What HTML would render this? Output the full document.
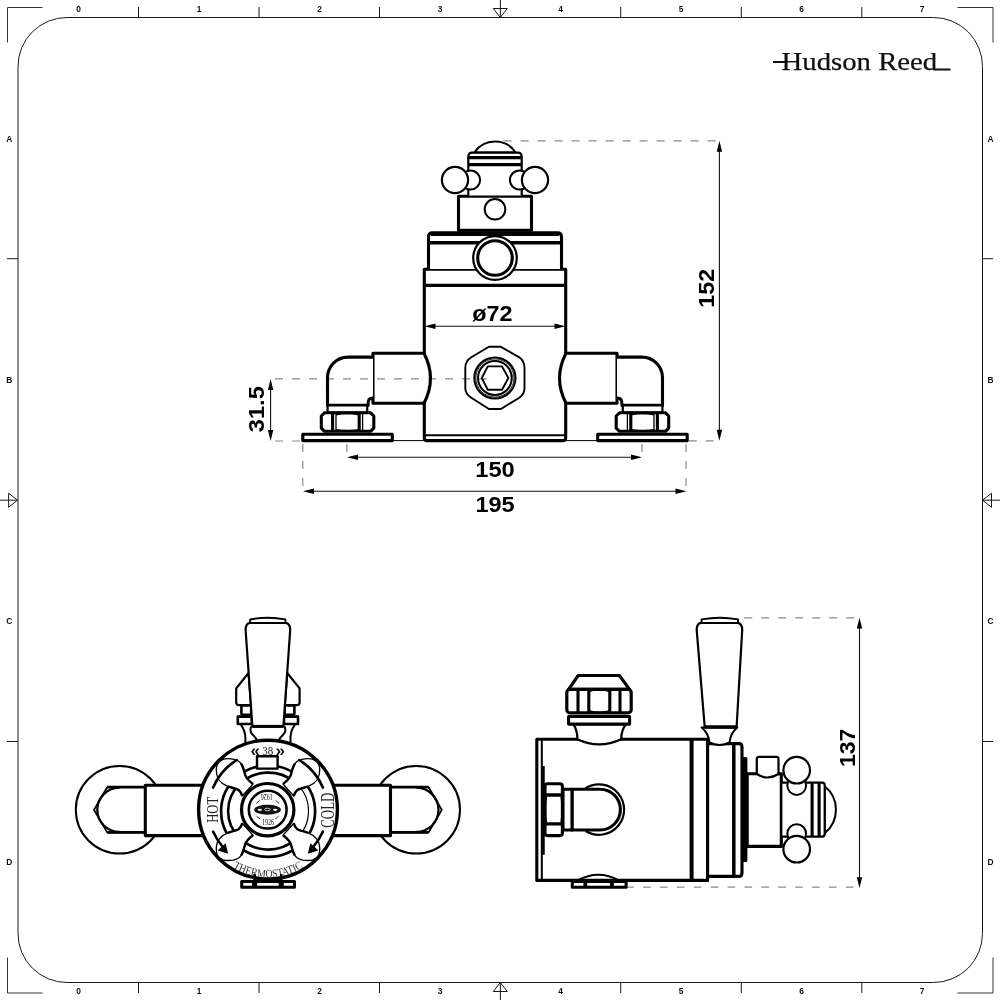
<!DOCTYPE html>
<html><head><meta charset="utf-8"><title>Hudson Reed drawing</title>
<style>
html,body{margin:0;padding:0;background:#fff;width:1000px;height:1000px;overflow:hidden}
svg{display:block}
.f{fill:none;stroke:#1a1a1a;stroke-width:1}
.lbl{font-family:"Liberation Sans",sans-serif;font-weight:bold;font-size:8.4px;fill:#111;text-anchor:middle}
.dim{font-family:"Liberation Sans",sans-serif;font-weight:bold;font-size:22px;fill:#000;text-anchor:middle}
.k{fill:#fff;stroke:#000;stroke-width:2.2;stroke-linejoin:round}
.kn{fill:none;stroke:#000;stroke-width:2.2;stroke-linejoin:round}
.t{fill:none;stroke:#000;stroke-width:1.4}
.d{fill:none;stroke:#8a8a8a;stroke-width:1.2;stroke-dasharray:8 9}
.dl{fill:none;stroke:#111;stroke-width:1.1}
.ah{fill:#000;stroke:none}
</style></head>
<body>
<svg width="1000" height="1000" viewBox="0 0 1000 1000">
<!-- FRAME -->
<g id="frame">
<rect x="18" y="17.5" width="964.5" height="965" rx="49" ry="49" class="f"/>
<path class="f" d="M42.5 7.5H7.5V42.5M957.5 7.5H993V42.5M7.5 957.5V993H42.5M957.5 993H993V957.5" style="stroke:#333"/>
<!-- top ticks -->
<path class="f" d="M138.5 7V17.5M259 7V17.5M379.5 7V17.5M620.7 7V17.5M741.3 7V17.5M861.8 7V17.5"/>
<path class="f" d="M138.5 982.5V993M259 982.5V993M379.5 982.5V993M620.7 982.5V993M741.3 982.5V993M861.8 982.5V993"/>
<path class="f" d="M7 258.7H18M7 741.5H18M982.5 258.7H993M982.5 741.5H993"/>
<!-- center arrows -->
<path class="f" d="M500.4 0V17.5M493.3 8.5H507.3L500.3 17.5Z"/>
<path class="f" d="M500.4 1000V982.5M493.3 991.5H507.3L500.3 982.5Z"/>
<path class="f" d="M0 500.2H17.5M8.6 493.2V507.2L17.5 500.2Z"/>
<path class="f" d="M1000 500.2H982.5M991.5 493.2V507.2L982.5 500.2Z"/>
<g class="lbl">
<text x="78.5" y="12.2">0</text><text x="199" y="12.2">1</text><text x="319.5" y="12.2">2</text><text x="440" y="12.2">3</text>
<text x="560.5" y="12.2">4</text><text x="681" y="12.2">5</text><text x="801.5" y="12.2">6</text><text x="922" y="12.2">7</text>
<text x="78.5" y="993.5">0</text><text x="199" y="993.5">1</text><text x="319.5" y="993.5">2</text><text x="440" y="993.5">3</text>
<text x="560.5" y="993.5">4</text><text x="681" y="993.5">5</text><text x="801.5" y="993.5">6</text><text x="922" y="993.5">7</text>
<text x="9.3" y="141.5">A</text><text x="9.3" y="382.5">B</text><text x="9.3" y="623.5">C</text><text x="9.3" y="864.5">D</text>
<text x="990.5" y="141.5">A</text><text x="990.5" y="382.5">B</text><text x="990.5" y="623.5">C</text><text x="990.5" y="864.5">D</text>
</g>
</g>
<!-- LOGO -->
<g id="logo">
<text x="781.6" y="70.4" textLength="155.6" lengthAdjust="spacingAndGlyphs" style="font-family:'Liberation Serif',serif;font-size:25.2px;fill:#111;stroke:#111;stroke-width:0.25">Hudson Reed</text>
<path d="M773 62H787M934.5 69.6H950.5" stroke="#111" stroke-width="2" fill="none"/>
</g>
<g id="topview">
<!-- main body -->
<path class="k" d="M424.3 269.3V438Q424.3 440.6 427 440.6H563Q565.7 440.6 565.7 438V269.3Z" style="stroke-width:3.1"/>
<path class="kn" d="M424.3 435.2H565.7" style="stroke-width:2"/>
<path class="kn" d="M424.3 285.3H565.7" style="stroke-width:3.3"/>
<!-- upper cylinder -->
<path class="k" d="M428.5 269V237Q428.5 232.8 432.5 232.8H557.5Q561.5 232.8 561.5 237V269" style="stroke-width:3.1"/>
<path class="kn" d="M431 234.2H559" style="stroke-width:3.5"/>
<path class="kn" d="M428.5 242.8H561.5" style="stroke-width:3.5"/>
<!-- middle block -->
<rect class="k" x="458.5" y="196.2" width="73" height="34" style="stroke-width:3.1"/>
<circle class="k" cx="495" cy="209.3" r="10.3" style="stroke-width:2"/>
<!-- ring -->
<circle class="k" cx="495" cy="258" r="21.8" style="stroke-width:2.2"/>
<circle class="k" cx="495" cy="258" r="17.3" style="stroke-width:3.1"/>
<!-- top body -->
<path class="k" d="M468.3 195.5V157Q468.3 152.6 472 152.6H518Q521.7 152.6 521.7 157V195.5" style="stroke-width:2.2"/>
<path class="kn" d="M468.3 157.6H521.7M468.3 164.6H521.7" style="stroke-width:3.1"/>
<path class="k" d="M474.5 152.2A25 25 0 0 1 515.5 152.2Z" style="stroke-width:2"/>
<!-- knobs -->
<circle class="k" cx="470.5" cy="180" r="9.6" style="stroke-width:2"/>
<circle class="k" cx="519.5" cy="180" r="9.6" style="stroke-width:2"/>
<circle class="k" cx="455" cy="180" r="13.1" style="stroke-width:2.2"/>
<circle class="k" cx="535" cy="180" r="13.1" style="stroke-width:2.2"/>
<!-- side parts (left, mirrored) -->
<g id="tvL">
<path class="kn" d="M392.3 440.6H424" style="stroke-width:1"/>
<path class="k" d="M373 353.3H424Q437 378.3 424 403.3H373Z" style="stroke-width:3.1"/>
<path class="k" d="M373 357.1H348A20.5 20.5 0 0 0 327.5 377.6V405.4H368C368 400 369 398 373 398" style="stroke-width:3.1"/>
<rect class="k" x="327.6" y="405.4" width="39.6" height="7.2" style="stroke-width:2.2"/>
<path class="k" d="M324.5 412.8H370.5L373.8 416V428.2L370.5 431.3H324.5L321.3 428.2V416Z" style="stroke-width:3.1"/>
<path class="kn" d="M332.6 413V431M359.2 413V431" style="stroke-width:3.1"/>
<path class="kn" d="M336 413V431M362.6 413V431" style="stroke-width:1.3"/>
<path class="kn" d="M336 414.8Q347.6 412.6 359.2 414.8M336 429.6Q347.6 431.6 359.2 429.6" style="stroke-width:1.3"/>
<rect class="k" x="302.8" y="434.2" width="89.5" height="6.4" style="stroke-width:3.1"/>
</g>
<use href="#tvL" transform="translate(990 0) scale(-1 1)"/>
<!-- center nut -->
<path class="k" d="M488.9 346.8H500.9L519.3 357.3Q524.5 361 524.5 367.8V388Q524.5 394 519.3 397.8L500.9 409H488.9L471.3 397.8Q465.3 394 465.3 388V367.8Q465.3 361 471.3 357.3Z" style="stroke-width:1.9"/>
<circle class="kn" cx="494.9" cy="378" r="20.6" style="stroke-width:2"/>
<circle class="kn" cx="494.9" cy="378" r="19.1" style="stroke-width:0.9"/>
<circle class="kn" cx="494.9" cy="378" r="16.9" style="stroke-width:2"/>
<path class="kn" d="M487.8 366.4H502L508.4 378L502 389.8H487.8L481.8 378Z" style="stroke-width:1.9"/>
<!-- dimensions -->
<g style="mix-blend-mode:multiply">
<path class="d" d="M503.6 140.8H716"/>
<path class="d" d="M688.8 440.8H716"/>
<path class="d" d="M275 378.9H488"/>
<path class="d" d="M275 441H301"/>
<path class="d" d="M346.8 444V453M642 444V453M302.8 444V488M686 444V488"/>
</g>
<path class="dl" d="M719.4 150V432"/>
<path class="ah" d="M719.4 140.8L716.7 151.8H722.1ZM719.4 440.8L716.7 429.8H722.1Z"/>
<path class="dl" d="M270.6 389V431"/>
<path class="ah" d="M270.6 378.9L267.9 389.9H273.3ZM270.6 441L267.9 430H273.3Z"/>
<path class="dl" d="M434 326.2H556"/>
<path class="ah" d="M424.5 326.2L435.5 323.5V328.9ZM565.5 326.2L554.5 323.5V328.9Z"/>
<path class="dl" d="M356 457.2H633"/>
<path class="ah" d="M347 457.2L358 454.5V459.9ZM642 457.2L631 454.5V459.9Z"/>
<path class="dl" d="M312 491.3H677"/>
<path class="ah" d="M303 491.3L314 488.6V494ZM686.5 491.3L675.5 488.6V494Z"/>
<text class="dim" x="492.3" y="320.8" textLength="40.3" lengthAdjust="spacingAndGlyphs">ø72</text>
<text class="dim" x="495" y="476.8" textLength="39.6" lengthAdjust="spacingAndGlyphs">150</text>
<text class="dim" x="495" y="511.5" textLength="39.2" lengthAdjust="spacingAndGlyphs">195</text>
<text class="dim" transform="translate(714 288.2) rotate(-90)" textLength="38.9" lengthAdjust="spacingAndGlyphs">152</text>
<text class="dim" transform="translate(264.3 409.2) rotate(-90)" textLength="45.9" lengthAdjust="spacingAndGlyphs">31.5</text>
</g>
<g id="frontview">
<g id="fvL">
<circle class="k" cx="119.6" cy="809.7" r="43.8" style="stroke-width:2"/>
<path class="k" d="M146 787.2H107.2L94 809.9L107.2 832.4H146Z" style="stroke-width:1.8"/>
<path class="kn" d="M107.2 787.2H146M107.2 832.4H146" style="stroke-width:2.8"/>
<path class="kn" d="M119.5 787.6A22.2 22.2 0 0 0 119.5 832" style="stroke-width:2.3"/>
<rect class="k" x="145.3" y="785.3" width="58" height="50.3" style="stroke-width:3.1"/>
</g>
<use href="#fvL" transform="translate(535.8 0) scale(-1 1)"/>
<!-- lever -->
<g id="lvL">
<path class="k" d="M248.6 673L236.2 688.4V702.6Q236.2 705.2 239 705.2H251Z" style="stroke-width:2.2"/>
<rect class="k" x="241.4" y="705.4" width="9.8" height="9.4" rx="1.5" style="stroke-width:2.6"/>
<rect class="k" x="237.8" y="716.6" width="14" height="7.4" style="stroke-width:2.6"/>
<path class="kn" d="M240.5 724.2Q246.5 732 245.2 742.5M251.2 726.4Q249.2 731.5 252.5 734.5Q256.5 738 257.6 742" style="stroke-width:2"/>
</g>
<use href="#lvL" transform="translate(535.8 0) scale(-1 1)"/>
<path class="k" d="M250 622.9H285.6Q290.2 623.6 290.2 630L283.4 726.4H252.4L245.6 630Q245.6 623.6 250 622.9Z" style="stroke-width:2.2"/>
<path class="kn" d="M252.2 726.4H283.4" style="stroke-width:3"/>
<path class="k" d="M250.2 622.9V619.4Q267.8 616 285.4 619.4V622.9Z" style="stroke-width:1.9"/>
<!-- dial -->
<circle class="k" cx="268" cy="809.6" r="69.4" style="stroke-width:3.4"/>
<ellipse class="kn" cx="268.1" cy="811.2" rx="47" ry="45.7" style="stroke-width:2.7"/>
<path class="kn" d="M294.14 840.59A40.2 38.5 0 1 1 294.14 781.61" style="stroke-width:2.6"/>
<path class="kn" d="M294.14 781.61A40.2 38.5 0 0 1 294.14 840.59" style="stroke-width:1.2"/>
<g id="lobe">
<path class="k" d="M253 784C249 781 246 777.5 245.2 775C244 771 243 766 241 763.6C239.5 761.5 237.5 760 233.2 759.1C229 758.5 225 758.5 222.5 759.6C219 761.5 216.6 764 216.4 768C216 772 216.5 776 218.8 779.8C220.5 782 224 785 227.8 786.4C231 787.5 236 788.5 238.6 790C240.5 791.5 241.8 794 242.2 796L253 784Z" style="stroke-width:1.3"/>
<path class="kn" d="M253 784C249 781 246 777.5 245.2 775C244 771 243 766 241 763.6M227.8 786.4C231 787.5 236 788.5 238.6 790C240.5 791.5 241.8 794 242.2 796" style="stroke-width:2.4"/>
</g>
<use href="#lobe" transform="translate(536 0) scale(-1 1)"/>
<use href="#lobe" transform="translate(0 1619.2) scale(1 -1)"/>
<use href="#lobe" transform="translate(536 1619.2) scale(-1 -1)"/>
<!-- hub -->
<circle class="k" cx="267.7" cy="809.7" r="26.2" style="stroke-width:3.2"/>
<circle class="k" cx="267.7" cy="809.7" r="18.9" style="stroke-width:2.5"/>
<ellipse cx="267.5" cy="809.8" rx="13.4" ry="5" fill="#111"/>
<ellipse cx="259.8" cy="809.8" rx="2.2" ry="1.1" fill="#fff"/>
<ellipse cx="267.5" cy="809.5" rx="2.8" ry="1.3" fill="none" stroke="#fff" stroke-width="0.8"/>
<ellipse cx="275.2" cy="809.8" rx="2.2" ry="1.1" fill="#fff"/>
<text transform="translate(266.8 794.4) rotate(180)" textLength="12" lengthAdjust="spacingAndGlyphs" style="font-family:'Liberation Serif',serif;font-size:8.4px;fill:#111;text-anchor:middle">1926</text>
<text x="268" y="825.2" textLength="12" lengthAdjust="spacingAndGlyphs" style="font-family:'Liberation Serif',serif;font-size:8.4px;fill:#111;text-anchor:middle">1926</text>
<path d="M256.2 803.4L259.6 800.4M279 803.4L275.6 800.4M256.6 816.2L260 819M278.6 816.2L275.2 819" stroke="#333" stroke-width="1" fill="none"/>
<!-- track arcs -->
<g id="trackL">
<path class="kn" d="M236.8 760A59 59 0 0 0 213.1 787.6" style="stroke-width:2.6;stroke-linecap:round"/>
<path class="kn" d="M213.1 831.6A59 59 0 0 0 222.5 846.5" style="stroke-width:2.6;stroke-linecap:round"/>
<path class="ah" d="M228.2 853.8L217.6 850.6L225.6 843.2Z"/>
</g>
<use href="#trackL" transform="translate(536 0) scale(-1 1)"/>
<!-- top rect + 38 -->
<rect class="k" x="257" y="756.2" width="20.6" height="12.4" style="stroke-width:2.4"/>
<text x="267.8" y="754.8" textLength="11" lengthAdjust="spacingAndGlyphs" style="font-family:'Liberation Serif',serif;font-size:13.5px;fill:#222;text-anchor:middle">38</text>
<text x="255.3" y="756" style="font-family:'Liberation Sans',sans-serif;font-weight:bold;font-size:17px;fill:#111;text-anchor:middle">«</text>
<text x="280.3" y="756" style="font-family:'Liberation Sans',sans-serif;font-weight:bold;font-size:17px;fill:#111;text-anchor:middle">»</text>
<!-- labels -->
<text transform="translate(218.2 809.8) rotate(-90)" textLength="25.8" lengthAdjust="spacingAndGlyphs" style="font-family:'Liberation Serif',serif;font-size:16.3px;fill:#222;text-anchor:middle">HOT</text>
<text transform="translate(333.9 810.2) rotate(-90)" textLength="35" lengthAdjust="spacingAndGlyphs" style="font-family:'Liberation Serif',serif;font-size:19.5px;fill:#222;text-anchor:middle">COLD</text>
<path id="thermoArc" d="M209.5 843.8A67.6 67.6 0 0 0 326.5 843.8" fill="none"/>
<text style="font-family:'Liberation Serif',serif;font-size:11.6px;fill:#333"><textPath href="#thermoArc" startOffset="50%" text-anchor="middle" textLength="74" lengthAdjust="spacingAndGlyphs">THERMOSTATIC</textPath></text>
<!-- bottom part -->
<path class="kn" d="M254.6 874V881M281.2 874V881" style="stroke-width:2.6"/>
<rect class="k" x="241.7" y="881.5" width="52.8" height="5.8" style="stroke-width:3"/>
<path class="kn" d="M254.6 881V888M281.2 881V888" style="stroke-width:5.2"/>
</g>
<g id="sideview">
<!-- main body -->
<rect class="k" x="536.8" y="739.3" width="170.8" height="141.1" style="stroke-width:3.1"/>
<path class="kn" d="M541.8 738.9V880.4" style="stroke-width:2"/>
<path class="kn" d="M543 766V854.8" style="stroke-width:3.5"/>
<path class="kn" d="M691.6 739V880.4" style="stroke-width:4"/>
<!-- top nut -->
<path class="k" d="M573.2 724.2Q577.4 730 577.4 739.2Q599 749.5 621.2 739.2Q621.2 730 626 724.2Z" style="stroke-width:2.2"/>
<rect class="k" x="568.6" y="716.5" width="61" height="7.6" style="stroke-width:3.1"/>
<path class="k" d="M578.2 675.5H619.4L629.6 689.4H568.6Z" style="stroke-width:3.1"/>
<rect class="k" x="566.8" y="689.4" width="64.4" height="23.4" rx="3" style="stroke-width:3.2"/>
<path class="kn" d="M578 690V712.4M588.8 690V712.4M609.8 690V712.4M620 690V712.4" style="stroke-width:3.1"/>
<path class="kn" d="M588.8 691.5Q599.3 687.5 609.8 691.5M588.8 710.8Q599.3 714.5 609.8 710.8" style="stroke-width:1.6"/>
<!-- side elbow -->
<path class="kn" d="M585.6 788.2A25.2 25.2 0 1 1 585.6 831" style="stroke-width:2.2"/>
<path class="k" d="M572 789.2H600A20.4 20.4 0 0 1 600 830H572Z" style="stroke-width:3.1"/>
<rect class="k" x="563" y="789.2" width="9" height="40.8" style="stroke-width:3.1"/>
<rect class="k" x="545" y="783.8" width="17.4" height="51.8" rx="2.5" style="stroke-width:3.1"/>
<path class="kn" d="M545 795H562.4M545 823.8H562.4" style="stroke-width:3.3"/>
<path class="kn" d="M546.5 797Q544.6 809.4 546.5 822M561 797Q563 809.4 561 822" style="stroke-width:1.2"/>
<!-- bottom nut -->
<path class="kn" d="M577.6 880.3Q598.6 869 618.9 880.3" style="stroke-width:2"/>
<rect class="k" x="572.3" y="881.6" width="53.8" height="5.6" style="stroke-width:3"/>
<path class="kn" d="M585.3 880.4V888M611.9 880.4V888" style="stroke-width:3.8"/>
<!-- section 2 -->
<path class="k" d="M707.6 743.6H739Q742 743.6 742 747V873Q742 876.4 739 876.4H707.6Z" style="stroke-width:3.1"/>
<path class="kn" d="M733.8 745V875" style="stroke-width:3.5"/>
<rect x="742.6" y="757" width="4.8" height="105" rx="1.5" fill="#000"/>
<!-- side lever -->
<path class="k" d="M701.6 727.5Q708.5 733 709.5 742.5Q719.5 747.5 729.5 742.5Q730.5 733 737.3 727.5Z" style="stroke-width:2"/>
<path class="k" d="M701 622.9H737.6Q742.2 623.6 742.2 630L736.6 727H704.7L696.7 630Q696.7 623.6 701 622.9Z" style="stroke-width:2.2"/>
<path class="kn" d="M704.7 727H736.6" style="stroke-width:3.3"/>
<path class="k" d="M701.6 622.9V619.4Q719.8 616 738 619.4V622.9Z" style="stroke-width:1.9"/>
<!-- middle block and cartridge -->
<rect class="k" x="747.2" y="773.7" width="34.1" height="72.7" style="stroke-width:3.1"/>
<path class="k" d="M756.8 774V759Q756.8 756.8 759 756.8H776.3Q778.5 756.8 778.5 759V774Q767.6 781 756.8 774Z" style="stroke-width:2.2"/>
<path class="k" d="M824.7 786.2A30.1 30.1 0 0 1 824.7 833.1Z" style="stroke-width:2"/>
<path class="k" d="M781.3 782.7H822.2Q824.7 782.7 824.7 785.2V834.1Q824.7 836.6 822.2 836.6H781.3Z" style="stroke-width:2.2"/>
<path class="kn" d="M812.1 782.7V836.6M819.1 782.7V836.6" style="stroke-width:3.1"/>
<circle class="k" cx="796.7" cy="785.5" r="9.4" style="stroke-width:2"/>
<circle class="k" cx="796.7" cy="833.6" r="9.4" style="stroke-width:2"/>
<circle class="k" cx="796.7" cy="770.2" r="13.3" style="stroke-width:2.2"/>
<circle class="k" cx="796.7" cy="849.2" r="13.3" style="stroke-width:2.2"/>
<!-- dim 137 -->
<g style="mix-blend-mode:multiply">
<path class="d" d="M744.2 617.9H856"/>
<path class="d" d="M626.2 887.2H856" style="stroke-dasharray:7.6 9.3"/>
</g>
<path class="dl" d="M859.5 626V880"/>
<path class="ah" d="M859.5 617.8L856.8 628.6H862.2ZM859.5 888L856.8 877.2H862.2Z"/>
<text class="dim" transform="translate(854.7 747.8) rotate(-90)" textLength="38.5" lengthAdjust="spacingAndGlyphs">137</text>
</g>
</svg>
</body></html>
